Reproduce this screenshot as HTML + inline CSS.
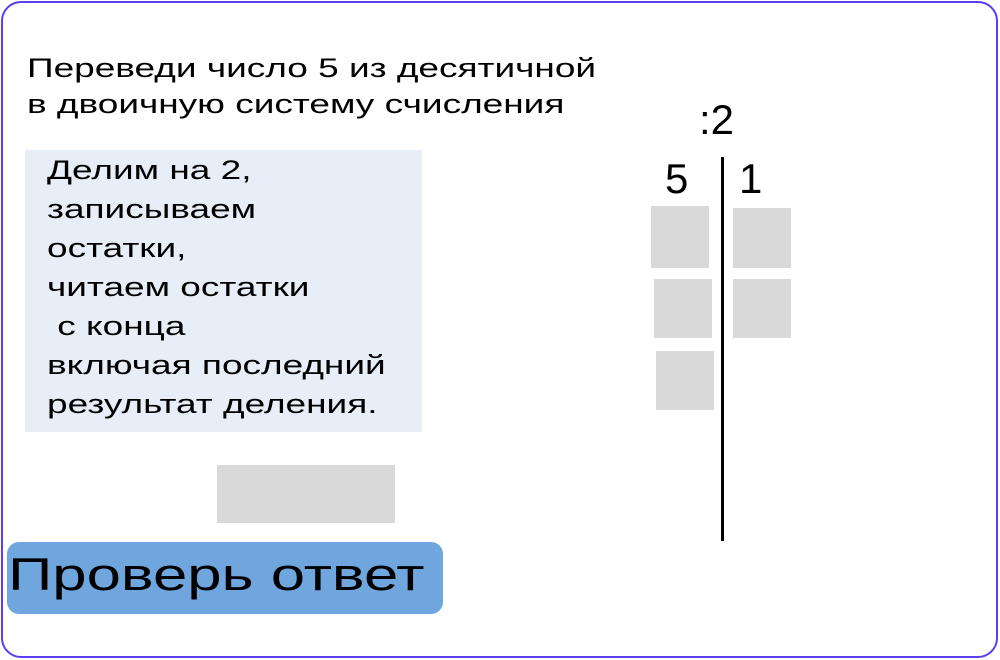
<!DOCTYPE html>
<html><head><meta charset="utf-8"><style>
body{margin:0;width:1000px;height:660px;overflow:hidden;background:#fff;font-family:"Liberation Sans",sans-serif;}
.abs{position:absolute;}
#frame{left:1px;top:1px;width:993px;height:653px;border:2.5px solid #5b3ef0;border-radius:20px;}
.t{color:#000;white-space:pre;}
.w{transform:scaleX(1.37);transform-origin:0 0;}
.g{background:#d9d9d9;}
</style></head><body>
<div id="frame" class="abs"></div>
<div class="abs t w" style="left:27px;top:50px;font-size:27px;line-height:36px;">Переведи число 5 из десятичной
в двоичную систему счисления</div>
<div class="abs" style="left:25px;top:150px;width:397px;height:282px;background:#e8eef7;"></div>
<div class="abs t w" style="left:47px;top:151px;font-size:27px;line-height:39px;">Делим на 2,
записываем
остатки,
читаем остатки
 с конца
включая последний
результат деления.</div>
<div class="abs g" style="left:217px;top:465px;width:178px;height:58px;"></div>
<div class="abs" style="left:7px;top:542px;width:436px;height:72px;background:#6fa6de;border-radius:12px;"><span class="t w" style="position:absolute;left:1px;top:8px;font-size:45px;line-height:50px;">Проверь ответ</span></div>
<div class="abs t" style="left:699px;top:96px;font-size:42px;line-height:48px;">:2</div>
<div class="abs t" style="left:665px;top:155px;font-size:42px;line-height:48px;">5</div>
<div class="abs t" style="left:739px;top:155px;font-size:42px;line-height:48px;">1</div>
<div class="abs" style="left:721px;top:157px;width:3px;height:384px;background:#000;"></div>
<div class="abs g" style="left:651px;top:206px;width:58px;height:62px;"></div>
<div class="abs g" style="left:733px;top:208px;width:58px;height:60px;"></div>
<div class="abs g" style="left:654px;top:279px;width:58px;height:59px;"></div>
<div class="abs g" style="left:733px;top:279px;width:58px;height:59px;"></div>
<div class="abs g" style="left:656px;top:351px;width:58px;height:59px;"></div>
</body></html>
